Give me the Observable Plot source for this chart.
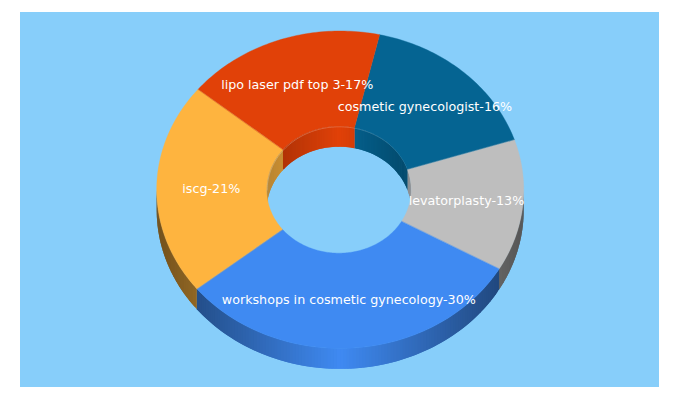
<!DOCTYPE html>
<html>
<head>
<meta charset="utf-8">
<script src="https://cdn.jsdelivr.net/npm/d3@7"></script>
<script src="https://cdn.jsdelivr.net/npm/@observablehq/plot@0.6"></script>
<style>
html,body{margin:0;padding:0;background:#fff}
svg{display:block}
</style>
</head>
<body>
<div id="chart"></div>
<script>
const categories = ["cosmetic gynecologist","levatorplasty","workshops in cosmetic gynecology","iscg","lipo laser pdf top 3"];
const values = [16,13,30,21,17];
const colors = ["#056492","#BEBEBE","#3F8AF2","#FEB43F","#E14108"];
const startAngle = 12.4;
const holeRx = 0.394;
const holeRy = 0.4;
const holeShift = -0.007;
const depth = 0.129;
const labelRadius = 0.697;

const total = d3.sum(values);
const rad = d => d * Math.PI / 180;
let running = startAngle;
const slices = categories.map((name, i) => {
  const a = running, b = a + values[i] / total * 360;
  running = b;
  return {name, value: values[i], color: colors[i], a, b, mid: (a + b) / 2};
});
const ox = t => Math.sin(rad(t));
const oy = t => -Math.cos(rad(t));
const ix = t => holeShift + holeRx * Math.sin(rad(t));
const iy = t => -holeRy * Math.cos(rad(t));
const shade = (c, s) => { const k = d3.rgb(c); return d3.rgb(k.r * s, k.g * s, k.b * s).formatHex(); };

function angles(a, b, step) {
  const out = [];
  for (let t = a; t < b; t += step) out.push(t);
  out.push(b);
  return out;
}
const topRows = slices.flatMap(s => angles(s.a, s.b, 1).map(t => ({
  key: s.name, fill: s.color,
  x1: ox(t), y1: oy(t), x2: ix(t), y2: iy(t)
})));

function band(ranges, fx, fy, shadeFn, step) {
  const rows = [];
  for (const s of slices) for (const [lo, hi] of ranges) {
    const a = Math.max(s.a, lo), b = Math.min(s.b, hi);
    if (a >= b) continue;
    const ts = angles(a, b, step);
    for (let i = 0; i + 1 < ts.length; i++) {
      const xm = Math.sin(rad((ts[i] + ts[i + 1]) / 2));
      const fill = shade(s.color, shadeFn(Math.abs(xm)));
      // each strip runs a little past the next one, which is painted over it, so no seam shows
      for (const t of [ts[i], Math.min(ts[i + 1] + step, b)]) rows.push({
        key: s.name + lo + "-" + i, fill,
        x1: fx(t), y1: fy(t), x2: fx(t), y2: fy(t) + depth
      });
    }
  }
  return rows;
}
const outerRows = band([[90, 270]], ox, oy, x => 1 - 0.55 * x, 1);
const innerRows = band([[-90, 90], [270, 450]], ix, iy, x => 1 - 0.27 * x, 1);
const rimRows = angles(-90, 90, 2).map(t => ({x: ix(t), y: iy(t)}));
const labelRows = slices.map(s => ({
  text: `${s.name}-${s.value}%`,
  x: labelRadius * ox(s.mid), y: labelRadius * oy(s.mid)
}));

const bandOpts = {x1: "x1", y1: "y1", x2: "x2", y2: "y2", z: "key", fill: "fill"};
const chart = Plot.plot({
  width: 680, height: 400,
  marginTop: 12, marginLeft: 20, marginRight: 21, marginBottom: 13,
  x: {domain: [-1, 1], range: [156.7, 523.7], axis: null},
  y: {domain: [-1, 1], range: [31, 348.4], axis: null},
  color: {type: "identity"},
  marks: [
    Plot.frame({fill: "#87CEFA", stroke: null, dx: -0.5, dy: -0.5}),
    Plot.area(outerRows, bandOpts),
    Plot.area(innerRows, bandOpts),
    Plot.line(rimRows, {x: "x", y: "y", stroke: "#ffffff", strokeOpacity: 0.25, strokeWidth: 1}),
    Plot.area(topRows, {...bandOpts, stroke: "fill", strokeWidth: 0.4}),
    Plot.text(labelRows, {x: "x", y: "y", text: "text", dx: -1.5, dy: -1, fill: "#ffffff", fontSize: 12.7, fontFamily: "DejaVu Sans"})
  ]
});
document.getElementById("chart").appendChild(chart);
</script>
</body>
</html>
